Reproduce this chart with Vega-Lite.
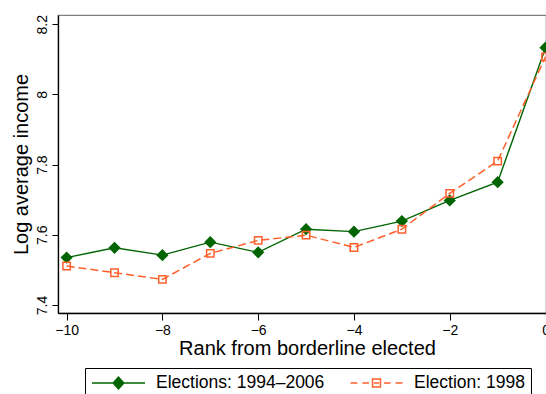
{
  "$schema": "https://vega.github.io/schema/vega-lite/v6.json",
  "width": 488,
  "height": 298,
  "autosize": {"type": "none"},
  "padding": {"left": 58, "top": 15, "right": 0, "bottom": 81},
  "background": "white",
  "config": {
    "font": "Liberation Sans",
    "view": {"stroke": "#808080", "strokeWidth": 1.2},
    "axis": {
      "grid": false,
      "domainColor": "black",
      "domainWidth": 1.3,
      "tickColor": "black",
      "tickWidth": 1,
      "tickSize": 7,
      "labelColor": "black",
      "titleColor": "black",
      "labelFont": "Liberation Sans",
      "titleFont": "Liberation Sans",
      "titleFontWeight": "normal",
      "labelFontSize": 14,
      "titleFontSize": 20
    }
  },
  "data": {
    "values": [
      {"rank": -10, "income": 7.535, "series": "Elections: 1994–2006"},
      {"rank": -9, "income": 7.563, "series": "Elections: 1994–2006"},
      {"rank": -8, "income": 7.542, "series": "Elections: 1994–2006"},
      {"rank": -7, "income": 7.579, "series": "Elections: 1994–2006"},
      {"rank": -6, "income": 7.550, "series": "Elections: 1994–2006"},
      {"rank": -5, "income": 7.616, "series": "Elections: 1994–2006"},
      {"rank": -4, "income": 7.609, "series": "Elections: 1994–2006"},
      {"rank": -3, "income": 7.639, "series": "Elections: 1994–2006"},
      {"rank": -2, "income": 7.698, "series": "Elections: 1994–2006"},
      {"rank": -1, "income": 7.750, "series": "Elections: 1994–2006"},
      {"rank": 0, "income": 8.133, "series": "Elections: 1994–2006"},
      {"rank": -10, "income": 7.511, "series": "Election: 1998"},
      {"rank": -9, "income": 7.492, "series": "Election: 1998"},
      {"rank": -8, "income": 7.473, "series": "Election: 1998"},
      {"rank": -7, "income": 7.547, "series": "Election: 1998"},
      {"rank": -6, "income": 7.584, "series": "Election: 1998"},
      {"rank": -5, "income": 7.599, "series": "Election: 1998"},
      {"rank": -4, "income": 7.564, "series": "Election: 1998"},
      {"rank": -3, "income": 7.616, "series": "Election: 1998"},
      {"rank": -2, "income": 7.718, "series": "Election: 1998"},
      {"rank": -1, "income": 7.810, "series": "Election: 1998"},
      {"rank": 0, "income": 8.107, "series": "Election: 1998"}
    ]
  },
  "encoding": {
    "x": {
      "field": "rank",
      "type": "quantitative",
      "scale": {"domain": [-10.18, 0.01], "nice": false, "zero": false},
      "axis": {
        "values": [-10, -8, -6, -4, -2, 0],
        "title": "Rank from borderline elected",
        "labelFlush": false,
        "labelPadding": 3,
        "titleX": 249,
        "titleY": 41,
        "titleBaseline": "alphabetic",
        "titleAlign": "center"
      }
    },
    "y": {
      "field": "income",
      "type": "quantitative",
      "scale": {"domain": [7.3772, 8.2262], "nice": false, "zero": false},
      "axis": {
        "values": [7.4, 7.6, 7.8, 8, 8.2],
        "format": "~g",
        "title": "Log average income",
        "tickSize": 6,
        "labelAngle": -90,
        "labelAlign": "center",
        "labelBaseline": "bottom",
        "labelPadding": 3,
        "titleAngle": -90,
        "titleX": -31,
        "titleY": 149,
        "titleAlign": "center",
        "titleBaseline": "alphabetic"
      }
    }
  },
  "layer": [
    {
      "transform": [{"filter": "datum.series === 'Elections: 1994–2006'"}],
      "mark": {"type": "line", "color": "#006400", "strokeWidth": 1.4}
    },
    {
      "transform": [{"filter": "datum.series === 'Elections: 1994–2006'"}],
      "mark": {"type": "point", "shape": "diamond", "filled": true, "size": 150, "color": "#006400", "opacity": 1}
    },
    {
      "transform": [{"filter": "datum.series === 'Election: 1998'"}],
      "mark": {"type": "line", "color": "#ff5f2a", "strokeWidth": 1.5, "strokeDash": [8, 4]}
    },
    {
      "transform": [{"filter": "datum.series === 'Election: 1998'"}],
      "mark": {"type": "point", "shape": "square", "filled": false, "size": 55, "color": "#ff5f2a", "strokeWidth": 1.5, "opacity": 1}
    },
    {
      "transform": [{"filter": "false"}],
      "mark": {"type": "point", "filled": false, "strokeWidth": 1.5, "opacity": 1},
      "encoding": {
        "color": {
          "field": "series",
          "type": "nominal",
          "scale": {"domain": ["Elections: 1994–2006", "Election: 1998"], "range": ["#006400", "#ff5f2a"]},
          "legend": {
            "title": null,
            "orient": "none",
            "legendX": 27,
            "legendY": 353,
            "direction": "horizontal",
            "strokeColor": "black",
            "padding": 6,
            "clipHeight": 18,
            "symbolSize": 2809,
            "symbolStrokeWidth": 1.5,
            "labelFontSize": 17.5,
            "labelFont": "Liberation Sans",
            "labelColor": "black",
            "labelLimit": 400,
            "labelOffset": 10,
            "columnPadding": 24
          }
        },
        "shape": {
          "field": "series",
          "type": "nominal",
          "scale": {
            "domain": ["Elections: 1994–2006", "Election: 1998"],
            "range": [
              "M-1,0H1M0,-0.22L0.2,0L0,0.22L-0.2,0ZM0,-0.158L0.144,0L0,0.158L-0.144,0ZM0,-0.099L0.09,0L0,0.099L-0.09,0ZM0,-0.04L0.036,0L0,0.04L-0.036,0Z",
              "M-0.98,0H-0.72M-0.53,0H-0.28M-0.1,0H0.1M0.28,0H0.53M0.72,0H0.98M-0.15,-0.15H0.15V0.15H-0.15Z"
            ]
          },
          "legend": {
            "title": null,
            "orient": "none",
            "legendX": 27,
            "legendY": 353,
            "direction": "horizontal",
            "strokeColor": "black",
            "padding": 6,
            "clipHeight": 18,
            "symbolSize": 2809,
            "symbolStrokeWidth": 1.5,
            "labelFontSize": 17.5,
            "labelFont": "Liberation Sans",
            "labelColor": "black",
            "labelLimit": 400,
            "labelOffset": 10,
            "columnPadding": 24
          }
        }
      }
    }
  ]
}
